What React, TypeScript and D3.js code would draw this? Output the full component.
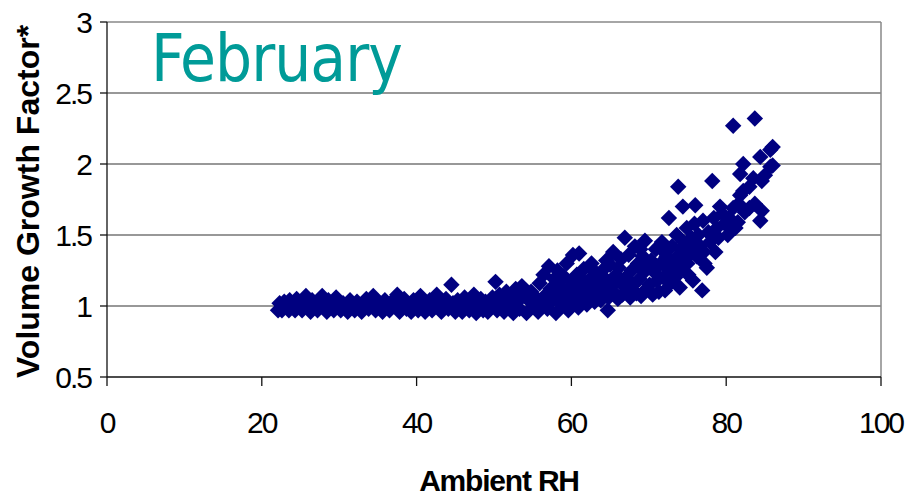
import * as d3 from 'd3';

// Ambient RH (%) vs volume growth factor
const seg20s: [number, number][] = [
  [22.1, 0.97], [22.3, 1.02], [22.6, 0.97], [22.9, 1.03], [23.2, 1.0], [23.5, 0.97], [23.6, 1.04],
  [24.0, 1.01], [24.3, 0.97], [24.5, 1.05], [24.9, 1.0], [25.2, 0.97], [25.4, 1.03], [25.7, 1.07],
  [26.0, 1.0], [26.3, 0.96], [26.5, 1.04], [26.9, 1.01], [27.2, 0.97], [27.5, 1.03], [27.8, 1.07],
  [28.1, 1.0], [28.4, 0.96], [28.6, 1.04], [29.0, 1.01], [29.3, 0.97], [29.6, 1.06], [29.9, 1.02],
];

const seg30s: [number, number][] = [
  [30.2, 0.97], [30.5, 1.02], [30.8, 1.0], [31.1, 0.96], [31.4, 1.04], [31.7, 1.01], [32.0, 0.97],
  [32.3, 1.03], [32.6, 1.0], [32.9, 0.96], [33.2, 1.02], [33.5, 1.05], [33.8, 0.98], [34.1, 1.01],
  [34.4, 1.07], [34.7, 0.97], [35.0, 1.03], [35.3, 1.0], [35.6, 0.96], [35.9, 1.04], [36.2, 1.01],
  [36.5, 0.97], [36.8, 1.03], [37.1, 1.0], [37.5, 1.08], [37.8, 0.96], [38.1, 1.02], [38.4, 1.05],
  [38.7, 0.98], [39.0, 1.01], [39.3, 0.96], [39.6, 1.04], [39.9, 1.0],
];

const seg40s: [number, number][] = [
  [40.2, 0.97], [40.5, 1.07], [40.8, 1.02], [41.1, 0.96], [41.4, 1.0], [41.7, 1.04], [42.0, 0.97],
  [42.3, 1.02], [42.6, 1.08], [42.9, 1.0], [43.2, 0.96], [43.5, 1.03], [43.8, 1.05], [44.1, 0.98],
  [44.5, 1.15], [44.7, 1.02], [45.0, 0.96], [45.3, 1.04], [45.6, 1.0], [45.9, 0.96], [46.2, 1.06],
  [46.5, 1.02], [46.8, 0.97], [47.1, 1.04], [47.4, 1.08], [47.7, 0.95], [48.0, 1.01], [48.3, 1.05],
  [48.6, 0.97], [48.9, 1.03], [49.2, 0.96], [49.5, 1.0], [49.8, 1.06],
];

const seg50s: [number, number][] = [
  [50.1, 1.02], [50.2, 1.17], [50.4, 0.97], [50.7, 1.08], [51.0, 1.04], [51.3, 0.96], [51.6, 1.1],
  [51.9, 1.01], [52.2, 1.06], [52.5, 0.95], [52.8, 1.12], [53.0, 1.03], [53.3, 0.98], [53.6, 1.14],
  [53.9, 1.07], [54.2, 0.95], [54.5, 1.04], [54.8, 1.1], [55.1, 1.0], [55.4, 1.06], [55.7, 0.96],
  [55.9, 1.16], [56.2, 1.03], [56.4, 1.22], [56.7, 1.08], [56.9, 0.98], [57.1, 1.28], [57.3, 1.12],
  [57.6, 1.04], [57.8, 1.19], [58.0, 0.95], [58.2, 1.25], [58.4, 1.09], [58.6, 1.14], [58.8, 1.01],
  [59.0, 1.21], [59.2, 1.06], [59.4, 1.3], [59.6, 0.97], [59.8, 1.12], [60.0, 1.17],
];

const seg60s: [number, number][] = [
  [60.2, 1.36], [60.3, 1.03], [60.5, 1.09], [60.7, 1.22], [60.9, 0.99], [61.0, 1.37], [61.2, 1.14],
  [61.4, 1.05], [61.6, 1.26], [61.8, 1.1], [62.0, 1.01], [62.2, 1.18], [62.4, 1.07], [62.6, 1.3],
  [62.8, 1.13], [63.0, 1.03], [63.2, 1.21], [63.4, 1.09], [63.6, 1.15], [63.8, 1.04], [64.0, 1.25],
  [64.2, 1.11], [64.4, 1.19], [64.7, 0.97], [64.8, 1.06], [65.0, 1.29], [65.2, 1.14], [65.4, 1.38],
  [65.6, 1.09], [65.8, 1.22], [66.0, 1.05], [66.2, 1.17], [66.4, 1.33], [66.6, 1.08], [66.9, 1.48],
  [67.0, 1.2], [67.2, 1.12], [67.4, 1.36], [67.6, 1.06], [67.8, 1.25], [68.0, 1.15], [68.2, 1.42],
  [68.4, 1.09], [68.6, 1.3], [68.8, 1.19], [69.0, 1.07], [69.2, 1.35], [69.4, 1.24], [69.5, 1.46],
  [69.7, 1.12], [69.9, 1.29], [61.1, 1.2], [62.9, 1.25], [64.5, 1.32], [66.1, 1.27], [67.5, 1.16],
  [68.9, 1.4], [65.3, 1.18], [63.5, 1.12], [62.3, 1.14],
];

const seg70s: [number, number][] = [
  [70.1, 1.15], [70.3, 1.32], [70.5, 1.08], [70.7, 1.24], [70.9, 1.4], [71.1, 1.18], [71.3, 1.1],
  [71.5, 1.3], [71.7, 1.45], [71.9, 1.2], [72.1, 1.11], [72.3, 1.35], [72.5, 1.26], [72.6, 1.62],
  [72.8, 1.16], [73.0, 1.42], [73.2, 1.3], [73.4, 1.2], [73.6, 1.5], [73.8, 1.84], [73.9, 1.36],
  [74.0, 1.13], [74.2, 1.26], [74.4, 1.7], [74.5, 1.45], [74.7, 1.33], [74.9, 1.55], [75.1, 1.22],
  [75.3, 1.4], [75.5, 1.48], [75.7, 1.18], [75.9, 1.58], [76.0, 1.71], [76.2, 1.35], [76.4, 1.5],
  [76.6, 1.42], [76.9, 1.11], [77.0, 1.6], [77.2, 1.3], [77.5, 1.27], [77.7, 1.52], [77.9, 1.45],
  [78.2, 1.88], [78.4, 1.62], [78.6, 1.38], [78.8, 1.55], [79.0, 1.48], [79.2, 1.7], [79.5, 1.65],
  [79.8, 1.58], [71.0, 1.27], [72.0, 1.38], [73.1, 1.22], [74.1, 1.4], [75.0, 1.3], [76.1, 1.45],
  [77.1, 1.38], [78.0, 1.5],
];

const seg80s: [number, number][] = [
  [80.2, 1.5], [80.4, 1.62], [80.6, 1.57], [80.9, 2.27], [80.9, 1.69], [81.2, 1.55], [81.5, 1.59],
  [81.6, 1.72], [81.8, 1.93], [81.8, 1.78], [82.2, 2.0], [82.2, 1.81], [82.4, 1.66], [83.0, 1.84],
  [83.0, 1.69], [83.5, 1.9], [83.7, 2.32], [83.7, 1.72], [84.4, 2.05], [84.4, 1.6], [84.6, 1.88],
  [84.6, 1.67], [85.0, 1.92], [85.7, 1.98], [85.7, 2.1], [86.0, 2.12], [86.0, 1.99],
];

const xTicks = [0, 20, 40, 60, 80, 100];
const yTicks = [0.5, 1, 1.5, 2, 2.5, 3];

const W = 909;
const H = 496;
const margin = { top: 22, right: 28, bottom: 119, left: 107 };

export default function App() {
  const points = [...seg20s, ...seg30s, ...seg40s, ...seg50s, ...seg60s, ...seg70s, ...seg80s];

  const x = d3.scaleLinear().domain([0, 100]).range([margin.left, W - margin.right]);
  const y = d3.scaleLinear().domain([0.5, 3]).range([H - margin.bottom, margin.top]);

  const diamond = d3.symbol(d3.symbolSquare, 135)() as string;
  const x0 = x(0), x1 = x(100), yb = y(0.5), yt = y(3);

  return (
    <div style={{ position: 'absolute', left: 0, top: 0 }}>
      <svg width={W} height={H} style={{ display: 'block', background: '#fff' }}>
        {/* gridlines */}
        {yTicks.filter(t => t > 0.5 && t < 3).map(t => (
          <line key={t} x1={x0} x2={x1} y1={y(t)} y2={y(t)} stroke="#333" strokeWidth={1.2} />
        ))}
        {/* plot frame: grey top/right */}
        <line x1={x0} x2={x1} y1={yt} y2={yt} stroke="#888" strokeWidth={1.5} />
        <line x1={x1} x2={x1} y1={yt} y2={yb} stroke="#888" strokeWidth={1.5} />

        {/* points */}
        {points.map(([rh, g], i) => (
          <path key={i} d={diamond}
            transform={`translate(${x(rh)},${y(g)}) rotate(45)`}
            fill="#000080" />
        ))}

        {/* axes */}
        <line x1={x0} x2={x0} y1={yt} y2={yb} stroke="#111" strokeWidth={1.3} />
        <line x1={x0} x2={x1} y1={yb} y2={yb} stroke="#111" strokeWidth={1.3} />
        {yTicks.map(t => (
          <g key={t}>
            <line x1={x0 - 7} x2={x0} y1={y(t)} y2={y(t)} stroke="#111" strokeWidth={1.3} />
            <text x={91} y={y(t) + 10.5} textAnchor="end" fontFamily="Liberation Sans, Arial"
              fontSize={30} letterSpacing={-2}>{t}</text>
          </g>
        ))}
        {xTicks.map(t => (
          <g key={t}>
            <line x1={x(t)} x2={x(t)} y1={yb} y2={yb + 9} stroke="#111" strokeWidth={1.3} />
            <text x={x(t)} y={433} textAnchor="middle" fontFamily="Liberation Sans, Arial"
              fontSize={30} letterSpacing={-2}>{t}</text>
          </g>
        ))}

        <text x={499} y={491} textAnchor="middle" fontFamily="Liberation Sans, Arial"
          fontSize={30} fontWeight="bold" letterSpacing={-1.2}>Ambient RH</text>
        <text transform={`translate(39,${(yt + yb) / 2 + 2}) rotate(-90)`} textAnchor="middle"
          fontFamily="Liberation Sans, Arial" fontSize={32} fontWeight="bold">Volume Growth Factor*</text>

        <text x={151} y={81} fontFamily="DejaVu Sans Condensed, DejaVu Sans" fontSize={65}
          letterSpacing={-1} fill="#009b98">February</text>
      </svg>
    </div>
  );
}
